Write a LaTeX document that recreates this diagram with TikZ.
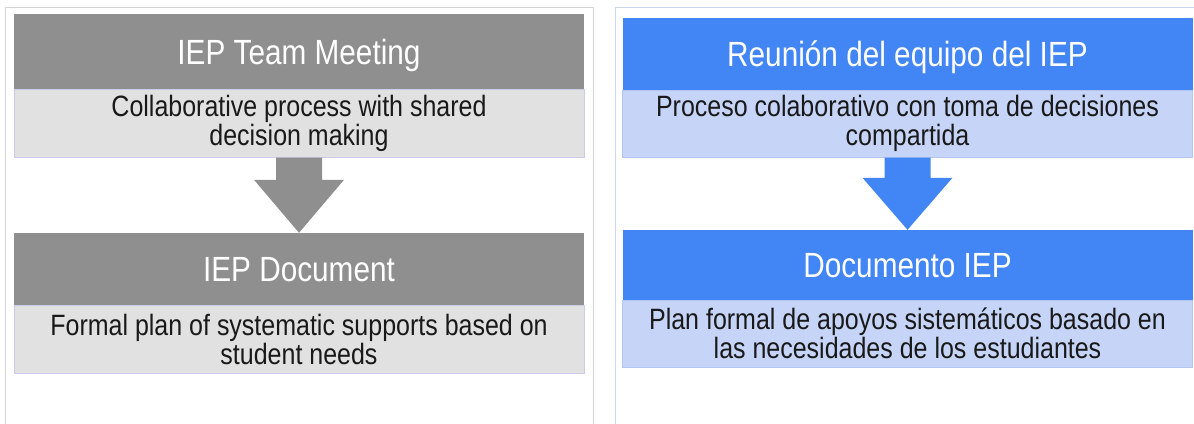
\documentclass[tikz,border=0pt]{standalone}
\usepackage{fontspec}
\setmainfont{Liberation Sans}[FakeStretch=0.85]
\usetikzlibrary{calc}

\definecolor{headgray}{RGB}{143,143,143}
\definecolor{bodygray}{RGB}{225,225,225}
\definecolor{edgegray}{RGB}{203,205,232}
\definecolor{headblue}{RGB}{66,133,244}
\definecolor{bodyblue}{RGB}{198,212,247}
\definecolor{edgeblue}{RGB}{178,198,240}
\definecolor{framegray}{RGB}{212,212,212}
\definecolor{frameblue}{RGB}{202,214,238}

\begin{document}
\begin{tikzpicture}[x=1pt,y=-1pt,
	head/.style = {rectangle,
		minimum width = 570pt,
		inner sep = 0pt,
		text = white,
		text height = 25pt, text depth = 0pt,
		font = \fontsize{35}{35}\selectfont},
	body/.style = {rectangle,
		minimum width = 570pt,
		inner sep = 0pt,
		line width = 1pt,
		align = center,
		text = black!90,
		font = \fontsize{29.4}{29}\selectfont}]
	
	\useasboundingbox (0,0) rectangle (1194,423);
	
	% Frames
	\draw[framegray, line width=1pt] (5,430) -- (5,7) -- (593,7) -- (593,430);
	\draw[frameblue, line width=1pt] (615,430) -- (615,7) -- (1200,7);
	
	% Left panel
	\node[head, fill=headgray, minimum height=75pt] (meetL) at (299,51.5) {IEP Team Meeting};
	\node[body, fill=bodygray, draw=edgegray, minimum height=68pt] (collabL) at (299,123)
		{Collaborative process with shared\\decision making};
	\node[head, fill=headgray, minimum height=72pt] (docL) at (299,269) {IEP Document};
	\node[body, fill=bodygray, draw=edgegray, minimum height=68pt] (planL) at (299,339)
		{Formal plan of systematic supports based on\\student needs};
	
	% Left arrow
	\fill[headgray] ($(collabL.south)+(-23,0)$) -- ($(docL.north)+(-23,-53)$)
		-- ($(docL.north)+(-45,-53)$) -- (docL.north) -- ($(docL.north)+(45,-53)$)
		-- ($(docL.north)+(23,-53)$) -- ($(collabL.south)+(23,0)$) -- cycle;
	
	% Right panel
	\node[head, fill=headblue, minimum height=72pt] (meetR) at (907.5,54) {Reunión del equipo del IEP};
	\node[body, fill=bodyblue, draw=edgeblue, minimum height=67pt] (collabR) at (907.5,123.5)
		{Proceso colaborativo con toma de decisiones\\compartida};
	\node[head, fill=headblue, minimum height=70pt] (docR) at (907.5,265) {Documento IEP};
	\node[body, fill=bodyblue, draw=edgeblue, minimum height=67pt] (planR) at (907.5,333.5)
		{Plan formal de apoyos sistemáticos basado en\\las necesidades de los estudiantes};
	
	% Right arrow
	\fill[headblue] ($(collabR.south)+(-23,0)$) -- ($(docR.north)+(-23,-52)$)
		-- ($(docR.north)+(-45,-52)$) -- (docR.north) -- ($(docR.north)+(45,-52)$)
		-- ($(docR.north)+(23,-52)$) -- ($(collabR.south)+(23,0)$) -- cycle;
	
\end{tikzpicture}
\end{document}
